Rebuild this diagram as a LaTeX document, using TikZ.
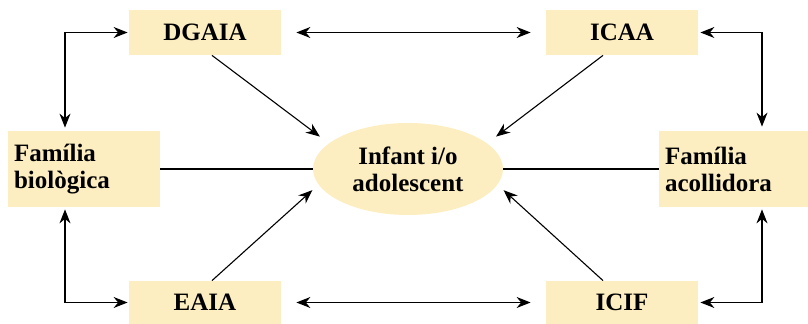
\documentclass[tikz,border=0pt]{standalone}
\usepackage{fontspec}
\setmainfont{Liberation Serif}
\usetikzlibrary{arrows.meta,shapes.geometric}
\definecolor{boxfill}{RGB}{253,238,194}

\begin{document}
\begin{tikzpicture}[x=0.5pt,y=0.5pt,font=\fontsize{12.5}{13.5}\selectfont\bfseries,
  box/.style={fill=boxfill,minimum width=76pt,minimum height=22.5pt,inner sep=0pt},
  fambox/.style={fill=boxfill,text width=70pt,inner xsep=3pt,minimum height=38pt,align=left},
  centre/.style={ellipse,fill=boxfill,minimum width=95pt,minimum height=46pt,inner sep=0pt,align=center},
  link/.style={line width=0.55pt},
  arr/.style={link,-{Stealth[length=7pt,width=5.5pt]}},
  dbl/.style={link,{Stealth[length=7pt,width=5.5pt]}-{Stealth[length=7pt,width=5.5pt]}}]
	\useasboundingbox (0,0) rectangle (808,324);
	% nodes
	\node[box] (dgaia) at (205,291.5) {DGAIA};
	\node[box] (icaa) at (622,291.5) {ICAA};
	\node[box,minimum height=21.5pt] (eaia) at (205,21.5) {EAIA};
	\node[box,minimum height=21.5pt] (icif) at (622,21.5) {ICIF};
	\node[fambox] (bio) at (84,155) {Família\\biològica};
	\node[fambox,text width=69pt] (acoll) at (734,155) {Família\\acollidora};
	\node[centre] (nen) at (408,155) {Infant i/o\\adolescent};
	\coordinate (lcol) at (65,0);
	\coordinate (rcol) at (762,0);
	% connectors
	\draw[dbl,shorten <=0.5pt,shorten >=1.5pt] (dgaia.west) -| (bio.north -| lcol);
	\draw[dbl,shorten <=0.5pt,shorten >=1pt] (eaia.west) -| (bio.south -| lcol);
	\draw[dbl,shorten <=1pt,shorten >=2pt] (icaa.east) -| (acoll.north -| rcol);
	\draw[dbl,shorten <=1pt,shorten >=1pt] (icif.east) -| (acoll.south -| rcol);
	\draw[dbl,shorten <=7.5pt,shorten >=7.5pt] (dgaia) -- (icaa);
	\draw[dbl,shorten <=7.5pt,shorten >=7.5pt] (eaia) -- (icif);
	\draw[arr,shorten >=5.5pt] ([xshift=3.5pt]dgaia.south) -- (nen.162);
	\draw[arr,shorten >=5.5pt] ([xshift=-9.5pt]icaa.south) -- (nen.18);
	\draw[arr,shorten >=4pt] ([xshift=3.5pt]eaia.north) -- (nen.190);
	\draw[arr,shorten >=4pt] ([xshift=-9.5pt]icif.north) -- (nen.350);
	\draw[link] (bio) -- (nen);
	\draw[link] (nen) -- (acoll);
\end{tikzpicture}
\end{document}
